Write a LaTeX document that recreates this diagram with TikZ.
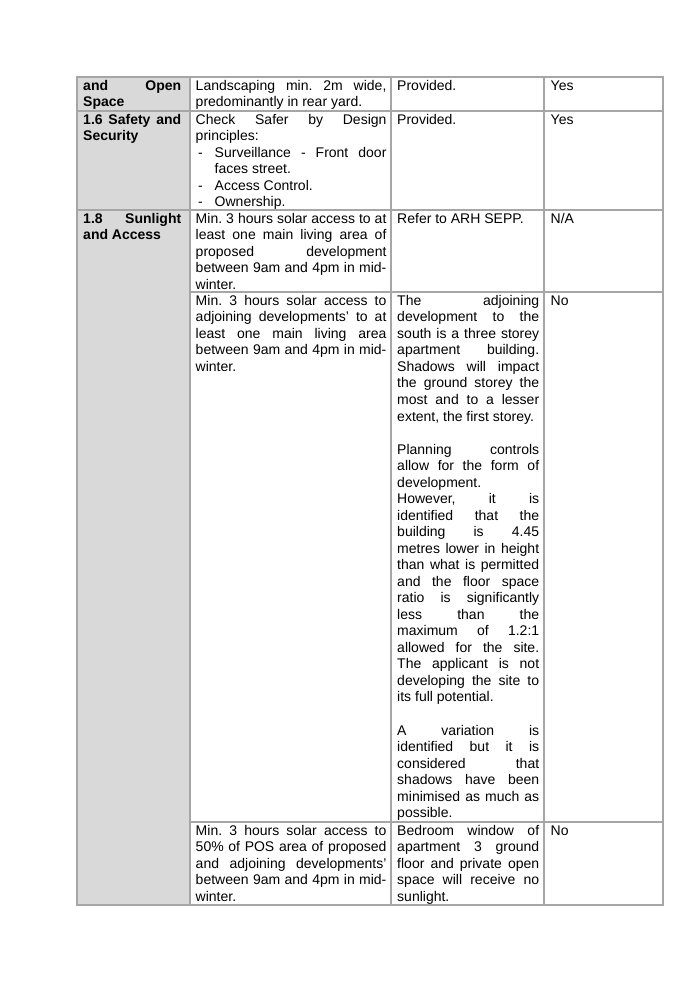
\documentclass[tikz,border=0pt]{standalone}
\usepackage{fontspec}
\setmainfont{Liberation Sans}
\definecolor{linegray}{HTML}{A6A6A6}
\definecolor{headgray}{HTML}{D9D9D9}
\setlength{\parindent}{0pt}
\setlength{\parskip}{0pt}
\frenchspacing
\tolerance=10000
\hbadness=10000
\hyphenpenalty=10000
\newcommand{\dashitem}{\par\hangindent=16.3pt\hangafter=1\noindent\makebox[16.3pt][l]{\hspace{2pt}-}}
\tikzset{
    cell/.style={anchor=north west, inner sep=0pt, align=justify, font=\fontsize{12}{14.17}\selectfont, execute at begin node=\noindent\strut},
    headcell/.style={cell, text width=84pt, font=\fontsize{12}{14.17}\selectfont\bfseries},
    gridline/.style={draw=linegray, line width=0.95pt}
}
\begin{document}
\begin{tikzpicture}[x=0.8573pt, y=-0.8573pt]
        \useasboundingbox[fill=white] (0,0) rectangle (694,989);
        % shading of first column and table rules
        \fill[headgray] (77,77) rectangle (190,905);
        \draw[gridline] (77,77) rectangle (663,905);
        \foreach \x in {190, 391, 544}
            \draw[gridline] (\x,77) -- (\x,905);
        \foreach \y in {111, 210}
            \draw[gridline] (77,\y) -- (663,\y);
        \foreach \y in {292, 822}
            \draw[gridline] (190,\y) -- (663,\y);
        % first column
        \node[headcell] at (83, 78.5) (open) {and Open\linebreak Space};
        \node[headcell] at (83, 112.5) (safety) {1.6 Safety and\linebreak Security};
        \node[headcell] at (83, 211.5) (sun) {1.8 Sunlight\linebreak and Access};
        % requirement column
        \node[cell, text width=163.5pt] at (195.5, 78.5) (landreq) {Landscaping min. 2m wide,\linebreak predominantly in rear yard.};
        \node[cell, text width=163.5pt] at (195.5, 112.5) (safereq) {Check Safer by Design\linebreak principles:
            \dashitem Surveillance - Front door\linebreak faces street.
            \dashitem Access Control.
            \dashitem Ownership.};
        \node[cell, text width=163.5pt] at (195.5, 211.5) (sunreq) {Min. 3 hours solar access to at\linebreak least one main living area of\linebreak proposed development\linebreak between 9am and 4pm in mid-\linebreak winter.};
        \node[cell, text width=163.5pt] at (195.5, 293.5) (adjreq) {Min. 3 hours solar access to\linebreak adjoining developments' to at\linebreak least one main living area\linebreak between 9am and 4pm in mid-\linebreak winter.};
        \node[cell, text width=163.5pt] at (195.5, 823.5) (posreq) {Min. 3 hours solar access to\linebreak 50\% of POS area of proposed\linebreak and adjoining developments'\linebreak between 9am and 4pm in mid-\linebreak winter.};
        % comment column
        \node[cell, text width=121.7pt] at (397, 78.5) (landcom) {Provided.};
        \node[cell, text width=121.7pt] at (397, 112.5) (safecom) {Provided.};
        \node[cell, text width=121.7pt] at (397, 211.5) (suncom) {Refer to ARH SEPP.};
        \node[cell, text width=121.7pt] at (397, 293.5) (adjcom) {The adjoining\linebreak development to the\linebreak south is a three storey\linebreak apartment building.\linebreak Shadows will impact\linebreak the ground storey the\linebreak most and to a lesser\linebreak extent, the first storey.
            \par\strut\par
            Planning controls\linebreak allow for the form of\linebreak development.
            \par
            However, it is\linebreak identified that the\linebreak building is 4.45\linebreak metres lower in height\linebreak than what is permitted\linebreak and the floor space\linebreak ratio is significantly\linebreak less than the\linebreak maximum of 1.2:1\linebreak allowed for the site.\linebreak The applicant is not\linebreak developing the site to\linebreak its full potential.
            \par\strut\par
            A variation is\linebreak identified but it is\linebreak considered that\linebreak shadows have been\linebreak minimised as much as\linebreak possible.};
        \node[cell, text width=121.7pt] at (397, 823.5) (poscom) {Bedroom window of\linebreak apartment 3 ground\linebreak floor and private open\linebreak space will receive no\linebreak sunlight.};
        % compliance column
        \node[cell, text width=94pt] at (550.5, 78.5) (landok) {Yes};
        \node[cell, text width=94pt] at (550.5, 112.5) (safeok) {Yes};
        \node[cell, text width=94pt] at (550.5, 211.5) (sunok) {N/A};
        \node[cell, text width=94pt] at (550.5, 293.5) (adjok) {No};
        \node[cell, text width=94pt] at (550.5, 823.5) (posok) {No};
\end{tikzpicture}
\end{document}
